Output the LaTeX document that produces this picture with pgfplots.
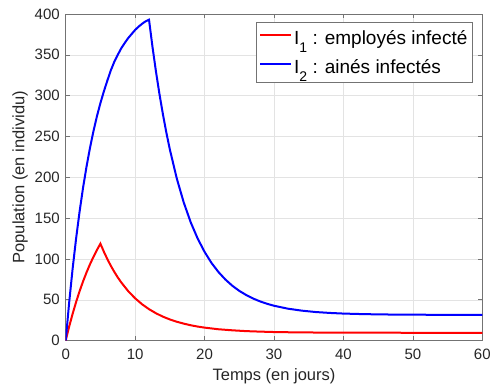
\documentclass[border=0pt]{standalone}
\usepackage{fontspec}
\setmainfont{Liberation Sans}
\usepackage{pgfplots}
\pgfplotsset{compat=1.18}
\definecolor{mred}{rgb}{1,0,0}
\definecolor{mblue}{rgb}{0,0,1}
\newcommand{\sub}[1]{\raisebox{-0.42em}{\fontsize{14}{14}\selectfont #1}}
\begin{document}
\begin{tikzpicture}
\path[use as bounding box] (-65.7pt,-48.4pt) rectangle (430.3pt,340.6pt);
\begin{axis}[
  at={(0pt,0pt)}, anchor=south west,
  scale only axis, width=416.6pt, height=326.6pt,
  xmin=0, xmax=60, ymin=0, ymax=400,
  xtick={0,10,...,60}, ytick={0,50,...,400},
  grid=major, major grid style={black!11, line width=0.5pt},
  axis line style={black!55, line width=0.6pt},
  tick style={black!55, line width=0.6pt},
  tick align=inside, major tick length=4.2pt,
  /pgf/number format/assume math mode=true,
  tick label style={font=\fontsize{15}{18}\selectfont, text=black!85},
  xticklabel style={yshift=-4.4pt},
  yticklabel style={xshift=-2.4pt},
  label style={font=\fontsize{16.5}{20}\selectfont, text=black!85},
  xlabel={Temps (en jours)}, ylabel={Population (en individu)},
  xlabel style={yshift=-3pt},
  legend cell align=left,
  legend style={at={(1,1)}, anchor=north east, xshift=-9.6pt, yshift=-8.3pt,
    draw=black!55, line width=0.6pt, font=\fontsize{19}{22}\selectfont,
    inner xsep=3pt, inner ysep=6pt, row sep=9pt},
  legend image code/.code={\draw[#1] (0pt,3pt) -- (31pt,3pt);},
]
\addplot[mred, line width=2pt] coordinates {
(0,0) (0.5,17.2) (1,32.9) (1.5,47.3) (2,60.5) (2.5,72.5) (3,83.5) (3.5,93.5) (4,102.6) (4.5,111.0) (5,118.7)
(5.5,108.8) (6,99.8) (6.5,91.6) (7,84.2) (7.5,77.4) (8,71.3) (9,60.6) (10,51.8) (11,44.5) (12,38.5) (13,33.5)
(14,29.3) (15,25.9) (16,23.1) (17,20.8) (18,18.8) (19,17.2) (20,15.9) (22,13.9) (24,12.6) (26,11.6) (28,11.0)
(30,10.5) (33,10.1) (36,9.9) (40,9.7) (45,9.65) (50,9.6) (60,9.6)
};
\addlegendentry{I\sub{1} : employés infecté}
\addplot[mblue, line width=2pt] coordinates {
(0,0) (0.5,46.7) (1,88.3) (1.5,125.2) (2,158.0) (2.5,187.2) (3,213.1) (3.5,236.1) (4,256.6) (4.5,274.8)
(5,290.9) (5.5,305.3) (6,318.5) (6.5,331) (7,341.5) (7.5,350) (8,358) (8.5,364.5) (9,370.5) (9.5,375.5)
(10,380.5) (10.5,384.5) (11,388) (11.5,391) (12,393)
(12.5,359.7) (13,329.6) (13.5,302.1) (14,277.3) (14.5,254.6) (15,234.1) (16,198.5) (17,169.2) (18,145.0)
(19,125.1) (20,108.7) (21,95.1) (22,84.0) (23,74.8) (24,67.2) (25,60.9) (26,55.8) (27,51.5) (28,48.0)
(29,45.1) (30,42.7) (32,39.1) (34,36.7) (36,35.0) (38,33.9) (40,33.1) (43,32.4) (46,32.0) (50,31.7)
(55,31.6) (60,31.5)
};
\addlegendentry{I\sub{2} : ainés infectés}
\end{axis}
\end{tikzpicture}
\end{document}
